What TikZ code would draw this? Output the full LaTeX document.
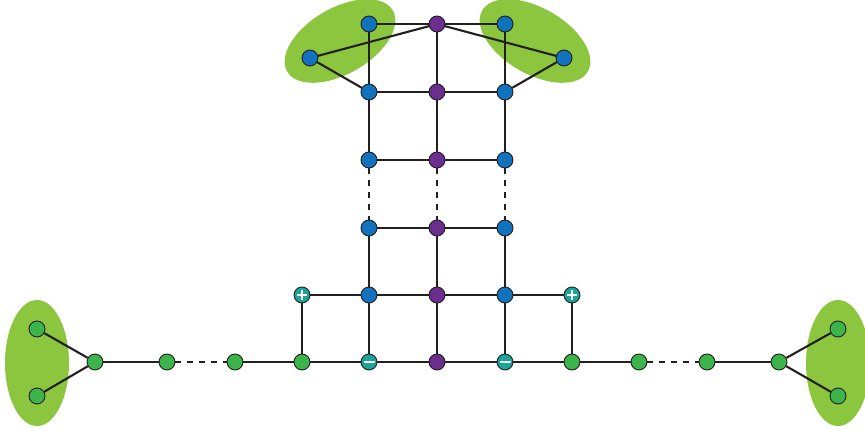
\documentclass[tikz,border=0pt]{standalone}
\usetikzlibrary{backgrounds}
\definecolor{nblue}{HTML}{1172BE}
\definecolor{npurple}{HTML}{6B2E8E}
\definecolor{ngreen}{HTML}{3BB44A}
\definecolor{nteal}{HTML}{1AA59B}
\definecolor{blob}{HTML}{8CC63F}
\definecolor{edgec}{HTML}{231F20}
\pgfdeclarelayer{regions}
\pgfsetlayers{regions,background,main}
\tikzset{
  vtx/.style={circle, draw=edgec, line width=0.9pt, minimum size=16pt, inner sep=0pt},
  bv/.style={vtx, fill=nblue},
  pv/.style={vtx, fill=npurple},
  gv/.style={vtx, fill=ngreen},
  tv/.style={vtx, fill=nteal},
  plusv/.style={tv, path picture={
      \draw[white, line width=2.2pt] ([xshift=-5pt]path picture bounding box.center) -- ([xshift=5pt]path picture bounding box.center);
      \draw[white, line width=2.2pt] ([yshift=-5pt]path picture bounding box.center) -- ([yshift=5pt]path picture bounding box.center);}},
  minusv/.style={tv, path picture={
      \draw[white, line width=2.4pt] ([xshift=-5.5pt]path picture bounding box.center) -- ([xshift=5.5pt]path picture bounding box.center);}},
  edge/.style={draw=edgec, line width=2.1pt},
  dedge/.style={edge, dash pattern=on 6pt off 6pt},
  region/.style={fill=blob, draw=none},
}
\begin{document}
\begin{tikzpicture}[x=1pt, y=-1pt]
\useasboundingbox (0,0) rectangle (865,430);

% shaded regions
\begin{pgfonlayer}{regions}
\fill[region, rotate around={30:(340,41)}] (340,41) ellipse (61pt and 33pt);
\fill[region, rotate around={-30:(535,41)}] (535,41) ellipse (61pt and 33pt);
\fill[region] (37,363) ellipse (32pt and 63pt);
\fill[region] (838,363) ellipse (32pt and 63pt);
\end{pgfonlayer}

% top block
\node[bv] (t1) at (369,24) {};
\node[pv] (t2) at (437,24) {};
\node[bv] (t3) at (505,24) {};
\node[bv] (tl) at (310,58) {};
\node[bv] (tr) at (564,58) {};
\node[bv] (a1) at (369,92) {};
\node[pv] (a2) at (437,92) {};
\node[bv] (a3) at (505,92) {};
\node[bv] (b1) at (369,160) {};
\node[pv] (b2) at (437,160) {};
\node[bv] (b3) at (505,160) {};
\node[bv] (c1) at (369,228) {};
\node[pv] (c2) at (437,228) {};
\node[bv] (c3) at (505,228) {};
\node[plusv] (d0) at (302,295) {};
\node[bv] (d1) at (369,295) {};
\node[pv] (d2) at (437,295) {};
\node[bv] (d3) at (505,295) {};
\node[plusv] (d4) at (572,295) {};

% bottom chain
\node[gv] (la) at (37,329) {};
\node[gv] (lb) at (37,396) {};
\node[gv] (e1) at (95,362) {};
\node[gv] (e2) at (167,362) {};
\node[gv] (e3) at (235,362) {};
\node[gv] (e4) at (302,362) {};
\node[minusv] (e5) at (369,362) {};
\node[pv] (e6) at (437,362) {};
\node[minusv] (e7) at (505,362) {};
\node[gv] (e8) at (572,362) {};
\node[gv] (e9) at (639,362) {};
\node[gv] (e10) at (707,362) {};
\node[gv] (e11) at (779,362) {};
\node[gv] (ra) at (838,329) {};
\node[gv] (rb) at (838,396) {};

% connectors, kept behind the vertices
\begin{pgfonlayer}{background}
\path[edge] (t1.center) -- (t2.center) -- (t3.center);
\path[edge] (tl.center) -- (t2.center) -- (tr.center);
\path[edge] (tl) -- (a1);
\path[edge] (tr) -- (a3);
\path[edge] (t1) -- (a1);
\path[edge] (t2) -- (a2);
\path[edge] (t3) -- (a3);
\path[edge] (a1.center) -- (a2.center) -- (a3.center);
\path[edge] (a1) -- (b1);
\path[edge] (a2) -- (b2);
\path[edge] (a3) -- (b3);
\path[edge] (b1.center) -- (b2.center) -- (b3.center);
\path[dedge] (b1) -- (c1);
\path[dedge] (b2) -- (c2);
\path[dedge] (b3) -- (c3);
\path[edge] (c1.center) -- (c2.center) -- (c3.center);
\path[edge] (c1) -- (d1);
\path[edge] (c2) -- (d2);
\path[edge] (c3) -- (d3);
\path[edge] (d0.center) -- (d4.center);
\path[edge] (d0) -- (e4);
\path[edge] (d1) -- (e5);
\path[edge] (d2) -- (e6);
\path[edge] (d3) -- (e7);
\path[edge] (d4) -- (e8);
\path[edge] (la) -- (e1);
\path[edge] (lb) -- (e1);
\path[edge] (e1) -- (e2);
\path[dedge] (e2) -- (e3);
\path[edge] (e3.center) -- (e9.center);
\path[dedge] (e9) -- (e10);
\path[edge] (e10) -- (e11);
\path[edge] (e11) -- (ra);
\path[edge] (e11) -- (rb);
\end{pgfonlayer}
\end{tikzpicture}
\end{document}
